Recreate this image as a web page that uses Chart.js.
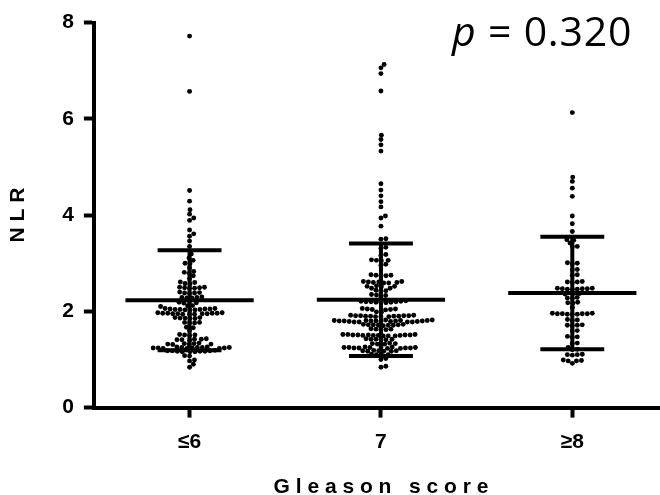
<!DOCTYPE html>
<html>
<head>
<meta charset="utf-8">
<script src="https://cdn.jsdelivr.net/npm/chart.js@4"></script>
<style>
  body { margin: 0; width: 660px; height: 495px; overflow: hidden; background: #fff; }
  #wrap { position: relative; width: 680px; height: 495px; }
  #pval { position: absolute; left: 452px; top: 10px; font-family: "Open Sans", sans-serif;
          font-size: 41px; line-height: 41px; color: #000; white-space: nowrap; letter-spacing: 0.8px; }
  #pval i { font-style: italic; }
</style>
</head>
<body>
<div id="wrap">
  <canvas id="chart" width="680" height="495"></canvas>
  <div id="pval"><i>p</i> = 0.320</div>
</div>
<script>
const categories = ['≤6', '7', '≥8'];
const yTicks = [0, 2, 4, 6, 8];

// NLR values, one list per Gleason group
const nlrLe6 = [
    7.72, 6.57, 4.51, 4.29, 4.11, 4.02, 3.94, 3.89, 3.69, 3.61, 3.56, 3.46, 3.35,
    3.19, 3.11, 3.06, 3.00, 2.99, 2.90, 2.83, 2.81, 2.79, 2.74, 2.68, 2.61, 2.60, 2.58, 2.57,
    2.50, 2.50, 2.49, 2.49, 2.48, 2.48,
    2.40, 2.39, 2.38, 2.38, 2.37,
    2.30, 2.29, 2.29, 2.28, 2.28,
    2.20, 2.19, 2.18, 2.17,
    2.12, 2.11, 2.10,
    2.06, 2.06, 2.05, 2.05, 2.05, 2.04, 2.04, 2.04, 2.03, 2.03, 2.03,
    1.97, 1.97, 1.96, 1.96, 1.96, 1.96, 1.95, 1.95, 1.95, 1.95, 1.94, 1.94, 1.94,
    1.87, 1.87, 1.86, 1.86, 1.85, 1.85,
    1.77, 1.77, 1.76, 1.76,
    1.67, 1.66, 1.60,
    1.52, 1.51, 1.51, 1.50,
    1.43, 1.42, 1.42, 1.41, 1.41, 1.40,
    1.34, 1.33, 1.33, 1.32, 1.32, 1.31, 1.31,
    1.26, 1.26, 1.25, 1.25, 1.25, 1.25, 1.24, 1.24, 1.24, 1.24, 1.23, 1.23, 1.23,
    1.19, 1.18, 1.18, 1.18, 1.17, 1.17, 1.17, 1.16, 1.16, 1.16,
    1.08, 1.07, 0.99, 0.97, 0.90, 0.84
];
const nlr7 = [
    7.13, 7.06, 6.94, 6.58, 5.66, 5.57, 5.46, 5.33, 4.65, 4.52, 4.40, 4.28, 4.17,
    3.98, 3.94, 3.77, 3.51, 3.50,
    3.33, 3.31, 3.18, 3.16, 3.07, 3.06, 3.06, 3.05, 2.98, 2.96,
    2.76, 2.75, 2.75, 2.74, 2.74,
    2.62, 2.62, 2.61, 2.61, 2.60, 2.60, 2.59, 2.59,
    2.53, 2.52, 2.52, 2.51, 2.48, 2.48,
    2.44, 2.43, 2.42,
    2.35, 2.34, 2.33, 2.30,
    2.22, 2.21, 2.21, 2.20, 2.20, 2.20, 2.19, 2.19, 2.18, 2.18,
    2.06, 2.05, 2.05, 2.04, 2.04, 2.03,
    1.99, 1.98,
    1.92, 1.92, 1.91, 1.91, 1.91, 1.91, 1.90, 1.90, 1.90, 1.90, 1.89, 1.89, 1.89,
    1.82, 1.82, 1.81, 1.81, 1.81, 1.81, 1.80, 1.80, 1.80, 1.80, 1.80, 1.80,
    1.79, 1.79, 1.79, 1.79, 1.78, 1.78, 1.78, 1.78,
    1.73, 1.73, 1.72, 1.72, 1.72, 1.71, 1.71, 1.71, 1.70,
    1.64, 1.63, 1.63, 1.62, 1.62,
    1.52, 1.52, 1.52, 1.51, 1.51, 1.51, 1.51, 1.51, 1.50, 1.50, 1.50, 1.50, 1.49, 1.49, 1.49,
    1.43, 1.42, 1.42, 1.42, 1.41, 1.41,
    1.34, 1.33, 1.33, 1.32, 1.32,
    1.26, 1.26, 1.26, 1.25, 1.25, 1.25, 1.25, 1.24, 1.24, 1.24, 1.24, 1.23, 1.23,
    1.19, 1.18, 1.18, 1.18, 1.17, 1.17, 1.17,
    1.11, 1.10, 1.10, 1.09,
    1.02, 1.00, 0.86, 0.84
];
const nlrGe8 = [
    6.13, 4.79, 4.70, 4.56, 4.39, 3.98, 3.82, 3.66, 3.49, 3.48, 3.42, 3.35, 3.34,
    3.01, 3.00, 2.99, 2.87, 2.86, 2.76, 2.75,
    2.62, 2.61, 2.61, 2.60,
    2.48, 2.48, 2.47, 2.47, 2.47, 2.46, 2.46, 2.46,
    2.37, 2.36, 2.36,
    2.29, 2.28, 2.27,
    2.19, 2.18, 2.17, 2.08,
    1.96, 1.96, 1.95, 1.95, 1.95, 1.95, 1.94, 1.94, 1.94,
    1.83, 1.82, 1.81,
    1.72, 1.71, 1.71, 1.70,
    1.60, 1.59,
    1.48, 1.47, 1.46,
    1.34, 1.33, 1.25, 1.21, 1.20,
    1.11, 1.10, 1.10, 1.09,
    0.99, 0.98, 0.97, 0.97, 0.92
];
const groupValues = [nlrLe6, nlr7, nlrGe8];
const groupMeans = [2.23, 2.24, 2.38];
const groupSDs = [1.04, 1.17, 1.17];

const FONT = "'Liberation Sans', Arial, sans-serif";
const lineDs = (pts) => ({
    type: 'line', data: pts, borderColor: '#000', borderWidth: 4,
    pointRadius: 0, borderCapStyle: 'butt', order: 0
});

const datasets = [];
groupMeans.forEach((m, i) => {
    const sd = groupSDs[i];
    datasets.push(lineDs([{ x: i - 0.335, y: m }, { x: i + 0.335, y: m }]));
    datasets.push(lineDs([{ x: i - 0.167, y: m + sd }, { x: i + 0.167, y: m + sd }]));
    datasets.push(lineDs([{ x: i - 0.167, y: m - sd }, { x: i + 0.167, y: m - sd }]));
    datasets.push(lineDs([{ x: i, y: m - sd }, { x: i, y: m + sd }]));
});
groupValues.forEach(() => {
    datasets.push({
        type: 'scatter', data: [], backgroundColor: '#000', borderWidth: 0,
        pointRadius: 2.45, order: 1
    });
});

const chart = new Chart(document.getElementById('chart'), {
    type: 'scatter',
    data: { datasets },
    options: {
        responsive: false,
        animation: false,
        layout: { padding: { left: 2, right: 12, top: 10, bottom: 0 } },
        plugins: { legend: { display: false }, tooltip: { enabled: false } },
        scales: {
            x: {
                type: 'linear', min: -0.5, max: 2.5,
                afterBuildTicks: s => { s.ticks = [0, 1, 2].map(v => ({ value: v })); },
                ticks: {
                    callback: v => categories[v], color: '#000', padding: 12,
                    font: { family: FONT, size: 21, weight: 'bold' }, maxRotation: 0
                },
                grid: { drawOnChartArea: false, tickLength: 10, tickWidth: 4, tickColor: '#000' },
                border: { color: '#000', width: 4 },
                title: {
                    display: true, text: 'G l e a s o n   s c o r e', color: '#000',
                    font: { family: FONT, size: 21, weight: 'bold' },
                    padding: { top: 8, bottom: -5 }
                }
            },
            y: {
                min: 0, max: 8,
                afterBuildTicks: s => { s.ticks = yTicks.map(v => ({ value: v })); },
                ticks: {
                    color: '#000', padding: 10,
                    font: { family: FONT, size: 21, weight: 'bold' }
                },
                grid: { drawOnChartArea: false, tickLength: 10, tickWidth: 4, tickColor: '#000' },
                border: { color: '#000', width: 4 },
                title: {
                    display: true, text: 'N L R', color: '#000',
                    font: { family: FONT, size: 21, weight: 'bold' },
                    padding: { top: 4, bottom: 21 }
                }
            }
        }
    }
});

// beeswarm: dots near the same height are pushed sideways; the vertical
// distance counts a bit more so neighbouring rows sit half a dot apart
function swarm(values, center, d, k) {
    const xs = chart.scales.x, ys = chart.scales.y;
    const unit = xs.getPixelForValue(1) - xs.getPixelForValue(0);
    const pts = values.map(v => ({ v, py: ys.getPixelForValue(v), dx: 0 }));
    pts.sort((a, b) => b.py - a.py);
    const placed = [];
    const gap = (q, p, c) => (q.dx - c) ** 2 + (k * (q.py - p.py)) ** 2;
    pts.forEach(p => {
        const near = placed.filter(q => k * Math.abs(q.py - p.py) < d);
        const cands = [0];
        near.forEach(q => {
            const off = Math.sqrt(d * d - (k * (q.py - p.py)) ** 2);
            cands.push(q.dx + off, q.dx - off);
        });
        cands.sort((a, b) => Math.abs(a) - Math.abs(b));
        for (const c of cands) {
            if (near.every(q => gap(q, p, c) >= d * d - 0.01)) { p.dx = c; break; }
        }
        placed.push(p);
    });
    return placed.map(p => ({ x: center + p.dx / unit, y: p.v }));
}

groupValues.forEach((vals, i) => {
    chart.data.datasets[12 + i].data = swarm(vals, i, 5, 1.15);
});
chart.update('none');
</script>
</body>
</html>
